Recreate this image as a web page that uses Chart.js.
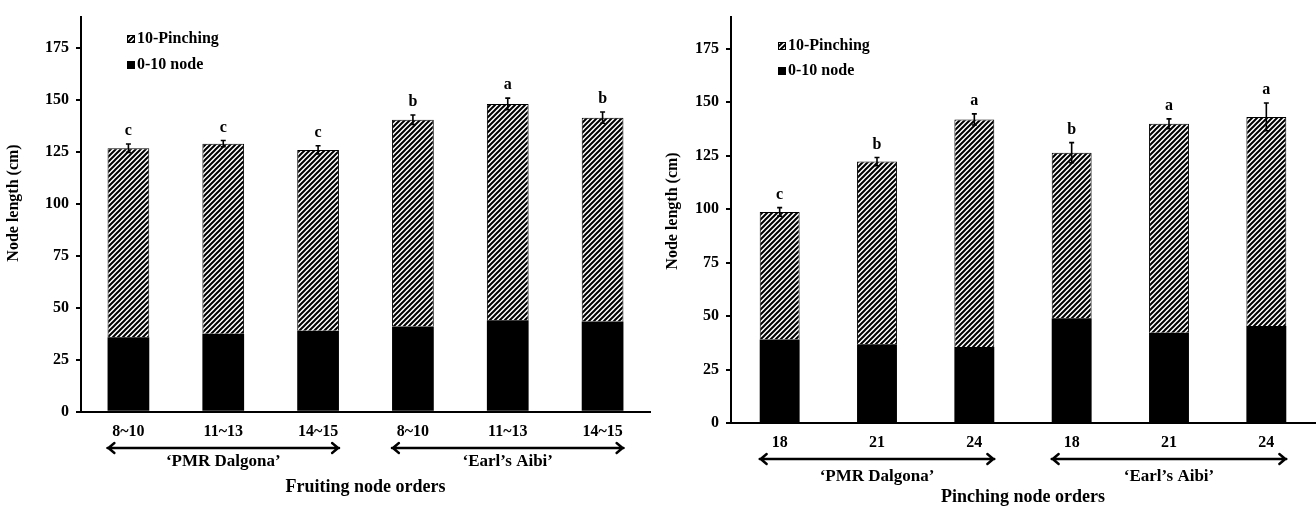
<!DOCTYPE html>
<html>
<head>
<meta charset="utf-8">
<script src="https://cdn.jsdelivr.net/npm/chart.js@4/dist/chart.umd.min.js"></script>
<style>
  html, body { margin: 0; padding: 0; background: #fff; }
  #wrap { position: relative; width: 1316px; height: 506px; }
  .box { position: absolute; top: 0; height: 506px; }
  #left { left: 0; width: 660px; }
  #right { left: 660px; width: 656px; }
</style>
</head>
<body>
<div id="wrap">
  <div class="box" id="left"><canvas id="fruit-chart"></canvas></div>
  <div class="box" id="right"><canvas id="pinch-chart"></canvas></div>
</div>
<script>
const fruitLabels = ["8~10", "11~13", "14~15", "8~10", "11~13", "14~15"];
const fruitBase = [35.8, 37.5, 38.9, 41.0, 44.0, 43.4];
const fruitPinch = [90.9, 91.4, 87.0, 99.4, 104.0, 98.0];
const fruitErr = [2.0, 1.5, 2.0, 2.3, 2.8, 2.7];
const fruitLetters = ["c", "c", "c", "b", "a", "b"];

const pinchLabels = ["18", "21", "24", "18", "21", "24"];
const pinchBase = [39.0, 36.8, 35.5, 49.0, 42.2, 45.4];
const pinchPinch = [59.7, 85.4, 106.4, 77.4, 97.7, 97.7];
const pinchErr = [2.0, 1.9, 2.6, 4.7, 2.3, 6.5];
const pinchLetters = ["c", "b", "a", "b", "a", "a"];

const cultivars = ["\u2018PMR Dalgona\u2019", "\u2018Earl\u2019s Aibi\u2019"];
const yTicks = [0, 25, 50, 75, 100, 125, 150, 175];
const legendNames = ["10-Pinching", "0-10 node"];

const SERIF = '"Liberation Serif", "Times New Roman", serif';

function makeHatch() {
  const c = document.createElement("canvas");
  c.width = 5;
  c.height = 5;
  const g = c.getContext("2d");
  g.fillStyle = "#fff";
  g.fillRect(0, 0, 5, 5);
  g.strokeStyle = "#000";
  g.lineWidth = 2;
  g.beginPath();
  g.moveTo(-1, 6); g.lineTo(6, -1);
  g.moveTo(-1, 1); g.lineTo(1, -1);
  g.moveTo(4, 6); g.lineTo(6, 4);
  g.stroke();
  return g.createPattern(c, "repeat");
}

function drawArrow(ctx, x1, x2, y) {
  ctx.save();
  ctx.strokeStyle = "#000";
  ctx.lineWidth = 2.4;
  ctx.lineCap = "round";
  ctx.lineJoin = "round";
  ctx.beginPath();
  ctx.moveTo(x1, y); ctx.lineTo(x2, y);
  ctx.moveTo(x1 + 7, y - 5); ctx.lineTo(x1 + 1, y); ctx.lineTo(x1 + 7, y + 5);
  ctx.moveTo(x2 - 7, y - 5); ctx.lineTo(x2 - 1, y); ctx.lineTo(x2 - 7, y + 5);
  ctx.stroke();
  ctx.restore();
}

function extrasPlugin(cfg) {
  return {
    id: "extras",
    afterDatasetsDraw(chart) {
      const ctx = chart.ctx;
      const x = chart.scales.x;
      const y = chart.scales.y;
      ctx.save();
      ctx.fillStyle = "#000";
      ctx.strokeStyle = "#000";

      // error bars + letters
      cfg.base.forEach((b, i) => {
        const total = b + cfg.pinch[i];
        const cx = x.getPixelForValue(i);
        const yt = y.getPixelForValue(total + cfg.err[i]);
        const yb = y.getPixelForValue(total - cfg.err[i]);
        ctx.lineWidth = 1.6;
        ctx.beginPath();
        ctx.moveTo(cx, yt); ctx.lineTo(cx, yb);
        ctx.moveTo(cx - 2.5, yt); ctx.lineTo(cx + 2.5, yt);
        ctx.moveTo(cx - 2.5, yb); ctx.lineTo(cx + 2.5, yb);
        ctx.stroke();
        ctx.font = "bold 16px " + SERIF;
        ctx.textAlign = "center";
        ctx.textBaseline = "middle";
        ctx.fillText(cfg.letters[i], cx, yt - 13);
      });

      // legend
      ctx.font = "bold 16px " + SERIF;
      ctx.textAlign = "left";
      ctx.textBaseline = "middle";
      const lx = cfg.legendX;
      ctx.fillStyle = chart.data.datasets[1].backgroundColor;
      ctx.fillRect(lx, cfg.legendY[0] - 4, 8, 8);
      ctx.lineWidth = 1;
      ctx.strokeRect(lx + 0.5, cfg.legendY[0] - 3.5, 7, 7);
      ctx.fillStyle = "#000";
      ctx.fillRect(lx, cfg.legendY[1] - 4, 8, 8);
      ctx.fillText(legendNames[0], lx + 10, cfg.legendY[0]);
      ctx.fillText(legendNames[1], lx + 10, cfg.legendY[1]);

      // cultivar arrows and labels
      ctx.font = "bold 17px " + SERIF;
      ctx.textAlign = "center";
      [[0, 2], [3, 5]].forEach((g, k) => {
        const a = x.getPixelForValue(g[0]) - cfg.arrowExt;
        const c = x.getPixelForValue(g[1]) + cfg.arrowExt;
        drawArrow(ctx, a, c, cfg.arrowY);
        ctx.fillText(cultivars[k], x.getPixelForValue((g[0] + g[1]) / 2), cfg.groupY);
      });

      // axis titles
      ctx.font = "bold 18px " + SERIF;
      ctx.fillText(cfg.xTitle, (chart.chartArea.left + chart.chartArea.right) / 2, cfg.xTitleY);
      ctx.save();
      ctx.translate(cfg.yTitleX, cfg.yTitleY);
      ctx.rotate(-Math.PI / 2);
      ctx.font = "bold 16px " + SERIF;
      ctx.fillText("Node length (cm)", 0, 0);
      ctx.restore();
      ctx.restore();
    }
  };
}

function makeChart(id, cfg) {
  const tickFont = { family: SERIF, weight: "bold", size: 16 };
  return new Chart(document.getElementById(id), {
    type: "bar",
    data: {
      labels: cfg.labels,
      datasets: [
        {
          label: legendNames[1],
          data: cfg.base,
          backgroundColor: "#000",
          borderColor: "#000",
          borderWidth: 0,
          barPercentage: cfg.bar,
          categoryPercentage: 1,
        },
        {
          label: legendNames[0],
          data: cfg.pinch,
          backgroundColor: makeHatch(),
          borderColor: "#000",
          borderWidth: 1,
          barPercentage: cfg.bar,
          categoryPercentage: 1,
        },
      ],
    },
    options: {
      responsive: true,
      maintainAspectRatio: false,
      animation: false,
      layout: { padding: { top: cfg.padTop, right: cfg.padRight, left: 0, bottom: 0 } },
      plugins: { legend: { display: false }, tooltip: { enabled: false } },
      scales: {
        x: {
          stacked: true,
          grid: { display: false, drawTicks: false },
          border: { display: true, color: "#000", width: 2 },
          ticks: { color: "#000", font: tickFont, padding: cfg.tickPad, maxRotation: 0, autoSkip: false },
          afterFit: (s) => { s.height = cfg.bottom; },
        },
        y: {
          stacked: true,
          min: 0,
          max: 190,
          afterBuildTicks: (s) => { s.ticks = yTicks.map((v) => ({ value: v })); },
          grid: { drawOnChartArea: false, drawTicks: true, tickLength: 5, color: "#000", lineWidth: 2 },
          border: { display: true, color: "#000", width: 2 },
          ticks: { color: "#000", font: tickFont, padding: 7 },
          afterFit: (s) => { s.width = cfg.axisX; },
        },
      },
    },
    plugins: [extrasPlugin(cfg)],
  });
}

makeChart("fruit-chart", {
  labels: fruitLabels, base: fruitBase, pinch: fruitPinch, err: fruitErr, letters: fruitLetters,
  bar: 0.44, padTop: 11, padRight: 10, bottom: 94.3, axisX: 81, tickPad: 11,
  legendX: 127, legendY: [39, 65], arrowExt: 21, arrowY: 448, groupY: 462,
  xTitle: "Fruiting node orders", xTitleY: 487, yTitleX: 14, yTitleY: 203,
});

makeChart("pinch-chart", {
  labels: pinchLabels, base: pinchBase, pinch: pinchPinch, err: pinchErr, letters: pinchLetters,
  bar: 0.41, padTop: 14, padRight: 1, bottom: 83, axisX: 71, tickPad: 10,
  legendX: 118, legendY: [46, 71], arrowExt: 20, arrowY: 459, groupY: 477,
  xTitle: "Pinching node orders", xTitleY: 497, yTitleX: 13, yTitleY: 211,
});
</script>
</body>
</html>
